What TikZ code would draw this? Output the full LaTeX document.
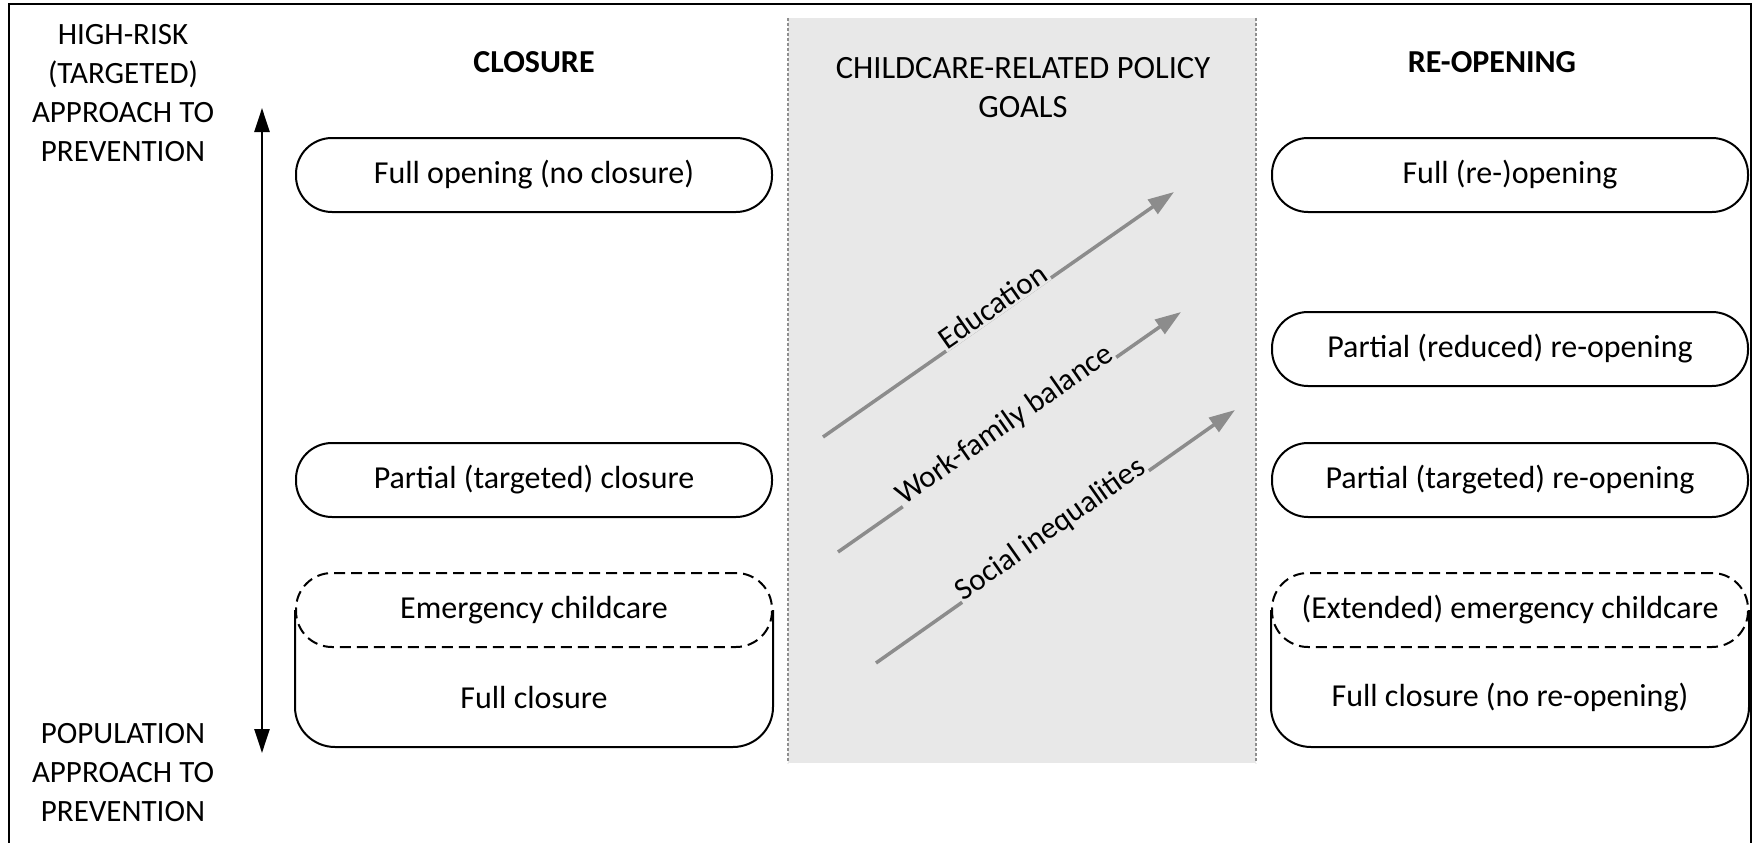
\documentclass[tikz,border=0pt]{standalone}
\usepackage{fontspec}
\setmainfont{Carlito}
\usetikzlibrary{arrows.meta}
\definecolor{goalbg}{HTML}{E8E8E8}
\definecolor{goalarrow}{HTML}{8C8C8C}
\definecolor{goaledge}{HTML}{8F8F8F}

\begin{document}
\begin{tikzpicture}[x=1pt, y=-1pt,
    every node/.style={font=\fontsize{31}{39}\selectfont, inner sep=0pt},
    pill/.style={draw, line width=2pt, rounded corners=36pt, minimum width=476pt, minimum height=74pt, font=\fontsize{32}{39}\selectfont},
    dashpill/.style={pill, dash pattern=on 11pt off 6pt},
    colhead/.style={font=\fontsize{32}{39}\selectfont\bfseries},
    goal/.style={draw=goalarrow, line width=3.5pt, -{Triangle[length=26pt, width=17pt]}},
    goallabel/.style={sloped, anchor=base, fill=goalbg, inner sep=1.5pt}]
                \useasboundingbox (0,0) rectangle (1754,843);
                % frame
                \draw[line width=2pt] (9,843) -- (9,4) -- (1751,4) -- (1751,843);
                % middle column
                \fill[goalbg] (788,18) rectangle (1256,763);
                \foreach \x in {788,1256} {
                    \draw[goaledge, line width=1.2pt, dash pattern=on 3pt off 2pt] (\x,18) -- (\x,763);
                }
                \node [align=center, font=\fontsize{32.5}{39}\selectfont] (goals) at (1023,88) {CHILDCARE-RELATED POLICY\\GOALS};
                % left labels and axis
                \node [align=center] (hirisk) at (123,93) {HIGH-RISK\\(TARGETED)\\APPROACH TO\\PREVENTION};
                \node [align=center] (popul) at (123,773) {POPULATION\\APPROACH TO\\PREVENTION};
                \coordinate (axtop) at (262,108);
                \coordinate (axbot) at (262,753);
                \draw[line width=2.5pt, {Triangle[length=24pt, width=15pt]}-{Triangle[length=24pt, width=15pt]}] (axtop) -- (axbot);
                % column heads
                \node [colhead] (closure) at (534,62) {CLOSURE};
                \node [colhead] (reopen) at (1492,62) {RE-OPENING};
                % closure options
                \node [pill] (c1) at (534,175) {Full opening (no closure)};
                \node [pill] (c2) at (534,480) {Partial (targeted) closure};
                \node [dashpill] (c3) at (534,610) {Emergency childcare};
                \node [font=\fontsize{32}{39}\selectfont] (c4) at (534,698) {Full closure};
                \draw[line width=2pt, rounded corners=40pt] (c3.west) -- (c3.west |- 0,747) -- (c3.east |- 0,747) -- (c3.east);
                % re-opening options
                \node [pill] (r1) at (1510,175) {Full (re-)opening};
                \node [pill] (r2) at (1510,349) {Partial (reduced) re-opening};
                \node [pill] (r3) at (1510,480) {Partial (targeted) re-opening};
                \node [dashpill] (r4) at (1510,610) {(Extended) emergency childcare};
                \node [font=\fontsize{32}{39}\selectfont] (r5) at (1510,698) {Full closure (no re-opening)};
                \draw[line width=2pt, rounded corners=40pt] (r4.west) -- (r4.west |- 0,747) -- (r4.east |- 0,747) -- (r4.east);
                % policy goals
                \foreach \sx/\sy/\ex/\ey/\lbl/\n in {823/437/1174/192/Education/edu,
                        838/552/1181/312/Work-family balance/wfb,
                        876/663/1235/410/Social inequalities/soc} {
                    \coordinate (\n s) at (\sx,\sy);
                    \coordinate (\n e) at (\ex,\ey);
                    \draw[goal] (\n s) -- node[goallabel, pos=0.5] {\lbl} (\n e);
                }
            \end{tikzpicture}
\end{document}
